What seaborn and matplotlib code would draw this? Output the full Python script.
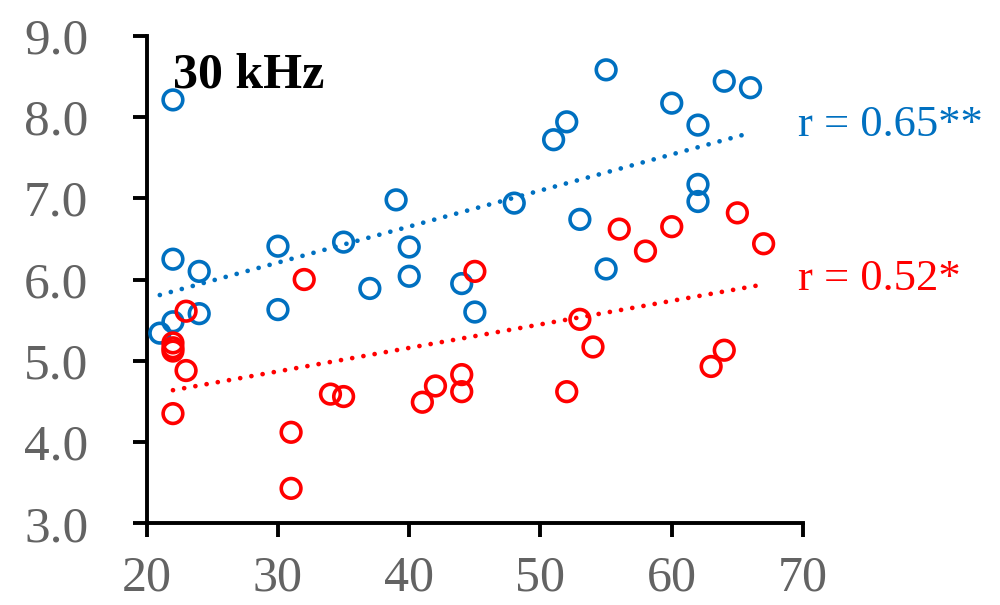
"""
Scatter of two groups with linear trend lines, 30 kHz panel.
"""

import numpy as np
import pandas as pd
import seaborn as sns
import matplotlib.pyplot as plt

BLUE = "#0070C0"
RED = "#FF0000"
TICK_GREY = "#636363"

# values
blue_x = [22, 22, 24, 24, 22, 21, 30, 30, 35, 37, 39, 40, 40, 44, 45, 48, 51, 52,
          55, 53, 55, 60, 62, 62, 62, 64, 66]
blue_y = [8.21, 6.25, 6.10, 5.58, 5.48, 5.34, 6.41, 5.63, 6.46, 5.89, 6.98, 6.40, 6.04,
          5.95, 5.60, 6.94, 7.72, 7.94, 8.58, 6.74, 6.13, 8.17, 7.90, 7.17, 6.96, 8.44, 8.36]

red_x = [22, 22, 22, 22, 23, 23, 31, 31, 32, 34, 35, 41, 42, 44, 44, 45, 52, 53,
         54, 56, 58, 60, 63, 64, 65, 67]
red_y = [5.22, 5.16, 5.12, 4.35, 5.61, 4.88, 4.12, 3.43, 6.00, 4.59, 4.56, 4.49, 4.69,
         4.83, 4.62, 6.10, 4.62, 5.51, 5.17, 6.62, 6.35, 6.65, 4.93, 5.13, 6.82, 6.44]

x_ticks = [20, 30, 40, 50, 60, 70]
y_ticks = [3.0, 4.0, 5.0, 6.0, 7.0, 8.0, 9.0]

panel_label = "30 kHz"
blue_label = "r = 0.65**"
red_label = "r = 0.52*"

blue_df = pd.DataFrame({"x": blue_x, "y": blue_y})
red_df = pd.DataFrame({"x": red_x, "y": red_y})

sns.set_style("white")
plt.rcParams["font.family"] = ["Liberation Serif", "DejaVu Serif"]

fig = plt.figure(figsize=(10, 6.05), dpi=100)
ax = fig.add_axes([0.1467, 0.135, 0.6563, 0.806])

dots = (0, (0.01, 2.4))
for df, color in [(blue_df, BLUE), (red_df, RED)]:
    sns.regplot(data=df, x="x", y="y", ci=None, scatter=False, ax=ax,
                line_kws={"color": color, "lw": 3.4, "linestyle": dots,
                          "dash_capstyle": "round"})
    sns.scatterplot(data=df, x="x", y="y", ax=ax, marker="o", s=200,
                    facecolor="none", edgecolor=color, linewidth=2.6, zorder=3)

ax.set_xlim(20, 70)
ax.set_ylim(3, 9)
ax.set_xticks(x_ticks)
ax.set_yticks(y_ticks)
ax.set_xticklabels([str(t) for t in x_ticks])
ax.set_yticklabels([f"{t:.1f}" for t in y_ticks])
ax.set_xlabel("")
ax.set_ylabel("")

for side in ["top", "right"]:
    ax.spines[side].set_visible(False)
for side in ["left", "bottom"]:
    ax.spines[side].set_color("black")
    ax.spines[side].set_linewidth(2.8)

ax.tick_params(axis="both", which="major", bottom=True, left=True, direction="out",
               length=10, width=2.8, color="black", labelcolor=TICK_GREY, labelsize=37)
ax.tick_params(axis="y", pad=32)
ax.tick_params(axis="x", pad=13, labelsize=36)

ax.text(22.0, 8.51, panel_label, fontsize=36, fontweight="bold", color="black",
        va="center", ha="left")
ax.text(69.6, 7.9, blue_label, fontsize=32, color=BLUE, va="center", ha="left",
        clip_on=False)
ax.text(69.6, 6.01, red_label, fontsize=32, color=RED, va="center", ha="left",
        clip_on=False)

fig.savefig("out.png", dpi=100)
